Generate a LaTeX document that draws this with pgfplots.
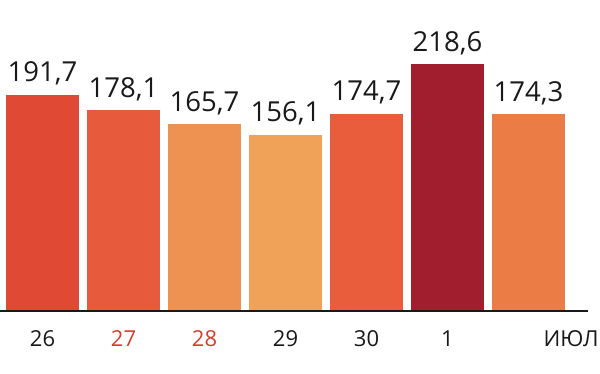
\documentclass[border=0pt]{standalone}
\usepackage{fontspec}
\setmainfont{Open Sans}
\usepackage{pgfplots}
\pgfplotsset{compat=1.18}
\definecolor{c1}{RGB}{224,74,52}
\definecolor{c2}{RGB}{232,90,60}
\definecolor{c3}{RGB}{238,146,82}
\definecolor{c4}{RGB}{240,163,88}
\definecolor{c5}{RGB}{233,92,60}
\definecolor{c6}{RGB}{160,30,45}
\definecolor{c7}{RGB}{236,124,70}
\definecolor{wkend}{RGB}{211,63,45}
\definecolor{txt}{RGB}{25,25,25}
\begin{document}
\begin{tikzpicture}
\begin{axis}[
  scale only axis,
  width=600pt, height=311pt,
  xmin=-0.52469, xmax=6.88272,
  ymin=0, ymax=275.7,
  axis line style={draw=none},
  ytick=\empty,
  clip=false,
  ybar, bar width=73pt, bar shift=0pt,
  xtick={0,1,2,3,4,5,6.525},
  xticklabels={26,\textcolor{wkend}{27},\textcolor{wkend}{28},29,30,1,ИЮЛ},
  /pgf/number format/assume math mode=true,
  /pgf/number format/.cd, use comma, fixed, precision=1, fixed zerofill,
  /pgfplots/.cd,
  nodes near coords={\fontsize{27.5}{30}\selectfont\pgfmathprintnumber{\pgfplotspointmeta}},
  nodes near coords style={text=txt, anchor=base, yshift=13pt, inner sep=0pt},
  every x tick label/.append style={font=\fontsize{22}{24}\selectfont, text=txt, anchor=base, yshift=-35pt, inner sep=0pt},
  major tick length=0pt,
  tick style={draw=none},
]
\addplot[fill=c1, draw=none] coordinates {(0,191.7)};
\addplot[fill=c2, draw=none] coordinates {(1,178.1)};
\addplot[fill=c3, draw=none] coordinates {(2,165.7)};
\addplot[fill=c4, draw=none] coordinates {(3,156.1)};
\addplot[fill=c5, draw=none] coordinates {(4,174.7)};
\addplot[fill=c6, draw=none] coordinates {(5,218.6)};
\addplot[fill=c7, draw=none] coordinates {(6,174.3)};
\draw[line width=1.3pt, color=txt] (axis cs:-0.53,0) -- (axis cs:6.735,0);
\end{axis}
\pgfresetboundingbox
\path (0,-62pt) rectangle (600pt,311pt);
\end{tikzpicture}
\end{document}
